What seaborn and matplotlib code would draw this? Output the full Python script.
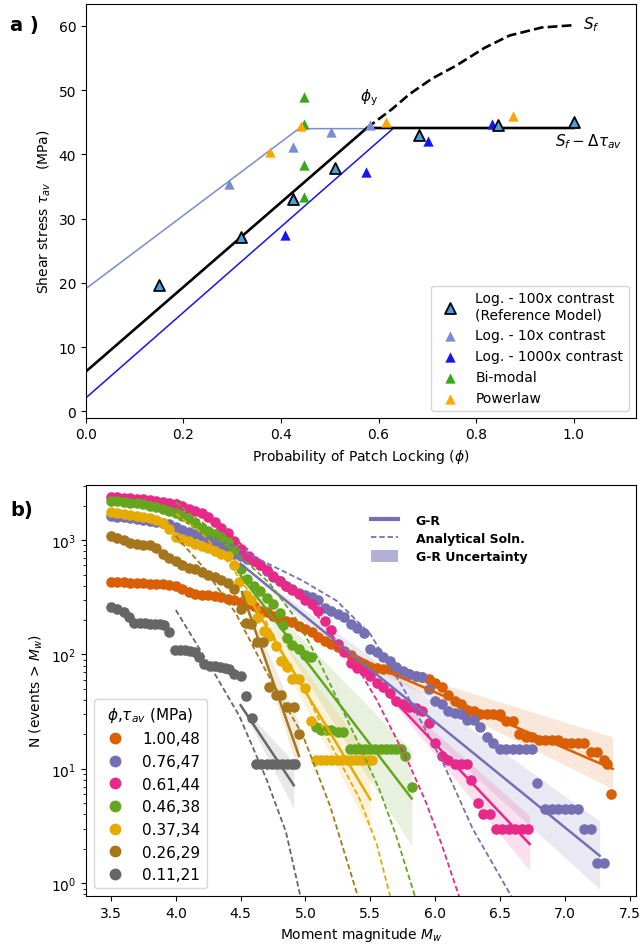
import matplotlib
matplotlib.use("Agg")
import matplotlib.pyplot as plt
import seaborn as sns
from matplotlib.lines import Line2D
from matplotlib.patches import Patch

# ================= Panel a) data =================
ref_phi = [0.149, 0.318, 0.4255, 0.51, 0.683, 0.844, 1.0]
ref_tau = [19.7, 27.2, 33.1, 37.9, 43.0, 44.55, 45.1]
c10_phi = [0.293, 0.424, 0.503, 0.582]
c10_tau = [35.4, 41.1, 43.4, 44.6]
c1000_phi = [0.409, 0.574, 0.702, 0.833]
c1000_tau = [27.5, 37.2, 42.1, 44.7]
bimodal_phi = [0.447, 0.447, 0.447, 0.447]
bimodal_tau = [49.0, 44.7, 38.4, 33.3]
power_phi = [0.378, 0.442, 0.615, 0.875, 1.0]
power_tau = [40.3, 44.45, 45.1, 45.9, 44.9]

ref_line_phi = [0.0, 0.576, 1.0]
ref_line_tau = [6.2, 44.1, 44.1]
c10_line_phi = [0.0, 0.4365, 0.576]
c10_line_tau = [19.1, 44.0, 44.0]
c1000_line_phi = [0.0, 0.6295]
c1000_line_tau = [2.1, 44.0]
sf_phi = [0.576, 0.627, 0.664, 0.71, 0.759, 0.818, 0.869, 0.935, 1.0]
sf_tau = [44.1, 47.0, 49.4, 51.8, 53.8, 56.6, 58.5, 59.75, 60.1]

# ================= Panel b) data =================
labels_b = ["1.00,48", "0.76,47", "0.61,44", "0.46,38", "0.37,34", "0.26,29", "0.11,21"]

mw_orange = [3.50, 3.55, 3.60, 3.65, 3.70, 3.75, 3.80, 3.85, 3.90, 3.95, 4.00, 4.05, 4.10, 4.15,
             4.20, 4.25, 4.30, 4.35, 4.40, 4.45, 4.50, 4.55, 4.60, 4.65, 4.70, 4.75, 4.80, 4.85,
             4.90, 4.95, 5.00, 5.05, 5.10, 5.15, 5.20, 5.25, 5.30, 5.35, 5.40, 5.45, 5.50, 5.55,
             5.60, 5.65, 5.70, 5.75, 5.80, 5.85, 5.90, 5.95, 6.00, 6.05, 6.10, 6.15, 6.20, 6.25,
             6.30, 6.35, 6.40, 6.45, 6.50, 6.55, 6.60, 6.65, 6.70, 6.75, 6.80, 6.85, 6.90, 6.95,
             7.00, 7.05, 7.10, 7.15, 7.20, 7.25, 7.30, 7.33, 7.36]
n_orange = [427, 427, 427, 424, 421, 418, 416, 413, 410, 402, 394, 373, 349, 338,
            331, 329, 327, 316, 305, 301, 289, 278, 267, 241, 234, 218, 204, 197,
            191, 179, 167, 156, 141, 132, 124, 116, 108, 98, 88, 83, 77, 76,
            75, 74, 72, 70, 68, 65, 63, 61, 56, 52, 44, 39, 37, 32,
            32, 30, 30, 30, 30, 26, 26, 20, 19, 19, 18, 18, 18, 18,
            17, 17, 17, 17, 14, 14, 12, 11, 6]

mw_purple = [3.50, 3.55, 3.60, 3.65, 3.70, 3.75, 3.80, 3.85, 3.90, 3.95, 4.00, 4.05, 4.10, 4.15,
             4.20, 4.25, 4.30, 4.35, 4.40, 4.45, 4.50, 4.55, 4.60, 4.65, 4.70, 4.75, 4.80, 4.85,
             4.90, 4.95, 5.00, 5.05, 5.10, 5.15, 5.20, 5.25, 5.30, 5.35, 5.40, 5.45, 5.50, 5.55,
             5.60, 5.65, 5.70, 5.75, 5.80, 5.85, 5.90, 5.95, 6.00, 6.05, 6.10, 6.15, 6.20, 6.25,
             6.30, 6.35, 6.40, 6.45, 6.50, 6.55, 6.60, 6.65, 6.70, 6.75, 6.79, 6.85, 6.90, 6.95,
             7.00, 7.05, 7.10, 7.15, 7.20, 7.25, 7.30]
n_purple = [1620, 1600, 1580, 1560, 1530, 1500, 1470, 1440, 1410, 1380, 1300, 1220, 1180, 1130,
            1080, 1020, 950, 880, 820, 760, 720, 690, 660, 600, 540, 480, 440, 400,
            370, 345, 330, 315, 300, 257, 240, 225, 214, 186, 170, 155, 111, 105,
            95, 88, 77, 72, 67, 65, 63, 50, 39, 37, 32, 31, 30, 27,
            27, 23, 19, 17, 15, 15, 15, 15, 15, 15, 7.5, 4.5, 4.5, 4.5,
            4.5, 4.5, 4.5, 3, 3, 1.5, 1.5]

mw_pink = [3.50, 3.55, 3.60, 3.65, 3.70, 3.75, 3.80, 3.85, 3.90, 3.95, 4.00, 4.05, 4.10, 4.15,
           4.20, 4.25, 4.30, 4.35, 4.40, 4.45, 4.50, 4.55, 4.60, 4.65, 4.70, 4.75, 4.80, 4.85,
           4.90, 4.95, 5.00, 5.05, 5.10, 5.15, 5.20, 5.25, 5.30, 5.35, 5.40, 5.45, 5.50, 5.55,
           5.60, 5.65, 5.70, 5.75, 5.80, 5.85, 5.90, 5.95, 6.00, 6.05, 6.10, 6.15, 6.20, 6.25,
           6.28, 6.33, 6.37, 6.42, 6.47, 6.52, 6.57, 6.62, 6.67, 6.72]
n_pink = [2380, 2370, 2350, 2330, 2300, 2270, 2240, 2200, 2160, 2120, 2080, 1980, 1880, 1790,
          1720, 1580, 1430, 1280, 1150, 980, 830, 730, 660, 600, 545, 490, 440, 400,
          365, 335, 300, 275, 240, 196, 165, 124, 105, 85, 76, 72, 65, 56,
          52, 46, 39, 37, 35, 34, 32, 25, 17, 13, 12, 11, 11, 11,
          8, 5, 4, 4, 3, 3, 3, 3, 3, 3]

mw_green = [3.50, 3.55, 3.60, 3.65, 3.70, 3.75, 3.80, 3.85, 3.90, 3.95, 4.00, 4.05, 4.10, 4.15,
            4.20, 4.25, 4.30, 4.35, 4.40, 4.45, 4.50, 4.55, 4.60, 4.65, 4.70, 4.75, 4.80, 4.83,
            4.86, 4.90, 4.95, 5.00, 5.04, 5.08, 5.12, 5.16, 5.20, 5.25, 5.29, 5.34, 5.38, 5.42,
            5.46, 5.50, 5.54, 5.58, 5.62, 5.66, 5.70, 5.74, 5.77, 5.82]
n_green = [2210, 2190, 2160, 2130, 2090, 2050, 2000, 1950, 1880, 1800, 1720, 1620, 1520, 1400,
           1280, 1200, 1130, 1060, 960, 820, 555, 455, 400, 360, 310, 275, 230, 180,
           140, 122, 112, 98, 96, 23, 22, 22, 22, 21, 21, 15, 15, 15,
           15, 15, 15, 15, 15, 15, 15, 15, 13, 7]

mw_yellow = [3.50, 3.55, 3.60, 3.65, 3.70, 3.75, 3.80, 3.85, 3.90, 3.95, 4.00, 4.05, 4.10, 4.15,
             4.20, 4.25, 4.30, 4.35, 4.40, 4.45, 4.49, 4.54, 4.58, 4.63, 4.68, 4.72, 4.77, 4.81,
             4.86, 4.90, 4.95, 5.00, 5.04, 5.08, 5.12, 5.16, 5.20, 5.24, 5.28, 5.32, 5.36, 5.40,
             5.44, 5.48, 5.51]
n_yellow = [1750, 1720, 1690, 1660, 1620, 1590, 1560, 1490, 1400, 1240, 1060, 1020, 980, 930,
            890, 850, 800, 760, 725, 600, 430, 330, 300, 210, 160, 145, 119, 87,
            77, 61, 61, 51, 26, 12, 12, 12, 12, 12, 12, 12, 12, 12,
            12, 12, 12]

mw_brown = [3.50, 3.55, 3.60, 3.65, 3.70, 3.75, 3.80, 3.85, 3.90, 3.95, 4.00, 4.05, 4.10, 4.15,
            4.20, 4.25, 4.30, 4.35, 4.40, 4.45, 4.50, 4.54, 4.58, 4.63, 4.67, 4.72, 4.77, 4.81,
            4.86, 4.91, 4.95]
n_brown = [1090, 1050, 1000, 950, 920, 910, 900, 860, 750, 700, 650, 600, 575, 555,
           530, 500, 475, 450, 425, 372, 250, 189, 185, 128, 128, 52, 44, 44,
           35, 35, 20]

mw_gray = [3.50, 3.55, 3.60, 3.64, 3.68, 3.72, 3.76, 3.80, 3.84, 3.88, 3.91, 3.95, 3.99, 4.03,
           4.07, 4.11, 4.15, 4.18, 4.22, 4.26, 4.30, 4.34, 4.38, 4.41, 4.45, 4.50, 4.54, 4.59,
           4.62, 4.66, 4.70, 4.74, 4.78, 4.82, 4.86, 4.90, 4.92]
n_gray = [258, 250, 233, 211, 190, 188, 187, 186, 186, 185, 180, 158, 110, 110,
          109, 108, 105, 95, 82, 80, 80, 78, 76, 75, 68, 65, 43, 28,
          11, 11, 11, 11, 11, 11, 11, 11, 11]

# G-R fit lines and uncertainty bands
gr_mw = [[5.18, 5.57, 7.37], [4.50, 7.27], [5.50, 6.73], [4.50, 5.82], [4.54, 5.50], [4.51, 4.95], [4.50, 4.91]]
gr_n = [[130, 76, 10], [620, 1.74], [66, 2.2], [490, 5.5], [350, 5.4], [351, 13], [36, 7.2]]
gr_hi = [[130, 82, 19], [620, 3.5], [66, 3.9], [490, 14.4], [350, 13], [351, 25], [36, 11.5]]
gr_lo = [[130, 70, 6.7], [620, 0.89], [66, 1.29], [490, 2.1], [350, 2.8], [351, 9], [36, 4.5]]

# Analytical solutions (dashed)
an_mw = [
    [],
    [4.30, 4.50, 4.67, 4.98, 5.24, 5.50, 5.75, 6.06, 6.29, 6.58, 6.65],
    [4.00, 4.20, 4.40, 4.57, 4.72, 4.88, 5.00, 5.20, 5.417, 5.55, 5.675, 5.80, 5.93, 6.05, 6.18, 6.25],
    [4.00, 4.13, 4.20, 4.40, 4.72, 4.93, 5.10, 5.25, 5.417, 5.57, 5.70, 5.84, 5.90],
    [4.00, 4.20, 4.40, 4.60, 4.80, 5.00, 5.20, 5.417, 5.55, 5.65, 5.70],
    [4.00, 4.20, 4.46, 4.70, 4.98, 5.19, 5.40, 5.45],
    [4.00, 4.31, 4.49, 4.70, 4.85, 4.96, 5.00],
]
an_n = [
    [],
    [1050, 820, 655, 440, 295, 151, 52, 11.4, 3.0, 0.8, 0.55],
    [2270, 1700, 1150, 800, 557, 390, 300, 150, 72, 40, 21, 11, 5.1, 2.2, 0.8, 0.45],
    [2150, 1620, 1450, 900, 424, 203, 90, 40, 16, 6.6, 2.6, 0.8, 0.5],
    [1700, 1150, 650, 310, 115, 48, 16, 5.5, 2.2, 0.8, 0.5],
    [1085, 600, 232, 70, 19.6, 4.75, 0.8, 0.5],
    [245, 65, 29, 8.1, 2.8, 0.78, 0.5],
]

mw_all = [mw_orange, mw_purple, mw_pink, mw_green, mw_yellow, mw_brown, mw_gray]
n_all = [n_orange, n_purple, n_pink, n_green, n_yellow, n_brown, n_gray]

# ================= Figure =================
fig = plt.figure(figsize=(6.43, 9.45), dpi=100)
ax1 = fig.add_axes([0.1337, 0.5569, 0.8554, 0.4378])
ax2 = fig.add_axes([0.1337, 0.0508, 0.8554, 0.4349])

REF_C = "#4a9fe3"
C10 = "#7b8cd3"
C1000 = "#1515f2"
GREEN = "#35a81c"
ORANGE = "#ffa500"

sns.lineplot(x=c10_line_phi, y=c10_line_tau, color=C10, lw=1.1, ax=ax1, sort=False, estimator=None)
sns.lineplot(x=c1000_line_phi, y=c1000_line_tau, color=C1000, lw=1.1, ax=ax1, sort=False, estimator=None)
sns.lineplot(x=ref_line_phi, y=ref_line_tau, color="k", lw=1.9, ax=ax1, sort=False, estimator=None)
sns.lineplot(x=sf_phi, y=sf_tau, color="k", lw=1.9, ax=ax1, sort=False, estimator=None, linestyle="--")

sns.scatterplot(x=ref_phi, y=ref_tau, marker="^", s=62, color=REF_C, edgecolor="k", linewidth=1.3,
                ax=ax1, zorder=6, label="Log. - 100x contrast\n(Reference Model)")
sns.scatterplot(x=c10_phi, y=c10_tau, marker="^", s=55, color=C10, linewidth=0, ax=ax1, zorder=5,
                label="Log. - 10x contrast")
sns.scatterplot(x=c1000_phi, y=c1000_tau, marker="^", s=55, color=C1000, linewidth=0, ax=ax1, zorder=5,
                label="Log. - 1000x contrast")
sns.scatterplot(x=bimodal_phi, y=bimodal_tau, marker="^", s=55, color=GREEN, linewidth=0, ax=ax1, zorder=5,
                label="Bi-modal")
sns.scatterplot(x=power_phi, y=power_tau, marker="^", s=55, color=ORANGE, linewidth=0, ax=ax1, zorder=5,
                label="Powerlaw")

ax1.text(1.02, 60.3, r"$S_f$", fontsize=11, va="center")
ax1.text(0.563, 49.0, r"$\phi_\mathrm{y}$", fontsize=11, va="center")
ax1.text(0.961, 42.1, r"$S_f - \Delta\tau_{av}$", fontsize=11, va="center")

ax1.set_xlim(0, 1.128)
ax1.set_ylim(-1.0, 63.4)
ax1.set_xticks([0.0, 0.2, 0.4, 0.6, 0.8, 1.0])
ax1.set_yticks([0, 10, 20, 30, 40, 50, 60])
ax1.set_xlabel(r"Probability of Patch Locking ($\phi$)", fontsize=10)
ax1.set_ylabel(r"Shear stress $\tau_{av}$   (MPa)", fontsize=10)
ax1.legend(loc="lower right", fontsize=10)

pal = sns.color_palette("Dark2", 8).as_hex()[1:8]
ax2.set_yscale("log")
scatter_handles = []
for i in range(7):
    c = pal[i]
    sns.scatterplot(x=mw_all[i], y=n_all[i], color=c, s=58, linewidth=0, ax=ax2, zorder=2, legend=False)
    scatter_handles.append(Line2D([], [], marker="o", ls="", color=c, markersize=7.5))
    ax2.fill_between(gr_mw[i], gr_lo[i], gr_hi[i], color=c, alpha=0.15, linewidth=0, zorder=1)
    sns.lineplot(x=gr_mw[i], y=gr_n[i], color=c, lw=1.8, ax=ax2, sort=False, estimator=None, zorder=3)
    if len(an_n[i]) > 0:
        sns.lineplot(x=an_mw[i], y=an_n[i], color=c, lw=1.3, ax=ax2, sort=False, estimator=None,
                     linestyle=(0, (3, 1.6)), zorder=3)

ax2.set_xlim(3.307, 7.55)
ax2.set_ylim(0.774, 3030)
ax2.set_xticks([3.5, 4.0, 4.5, 5.0, 5.5, 6.0, 6.5, 7.0, 7.5])
ax2.set_xlabel(r"Moment magnitude $M_w$", fontsize=10)
ax2.set_ylabel(r"N (events > $M_w$)", fontsize=10)

leg1 = ax2.legend(scatter_handles, labels_b, loc="lower left", fontsize=11,
                  title=r"$\phi$,$\tau_{av}$ (MPa)", title_fontsize=11)
ax2.add_artist(leg1)
pur = pal[1]
h2 = [Line2D([], [], color=pur, lw=3),
      Line2D([], [], color=pur, lw=1.3, linestyle=(0, (3, 1.6))),
      Patch(facecolor=pur, alpha=0.55, edgecolor="none")]
ax2.legend(h2, ["G-R", "Analytical Soln.", "G-R Uncertainty"], loc="upper left",
           bbox_to_anchor=(0.497, 0.958), frameon=False, prop={"weight": "bold", "size": 9},
           handlelength=2.2, handleheight=1.2, handletextpad=1.4, labelspacing=0.35)

fig.text(0.016, 0.9735, "a )", fontsize=14, fontweight="bold", va="center")
fig.text(0.016, 0.4603, "b)", fontsize=14, fontweight="bold", va="center")

fig.savefig("out.png", dpi=100)
